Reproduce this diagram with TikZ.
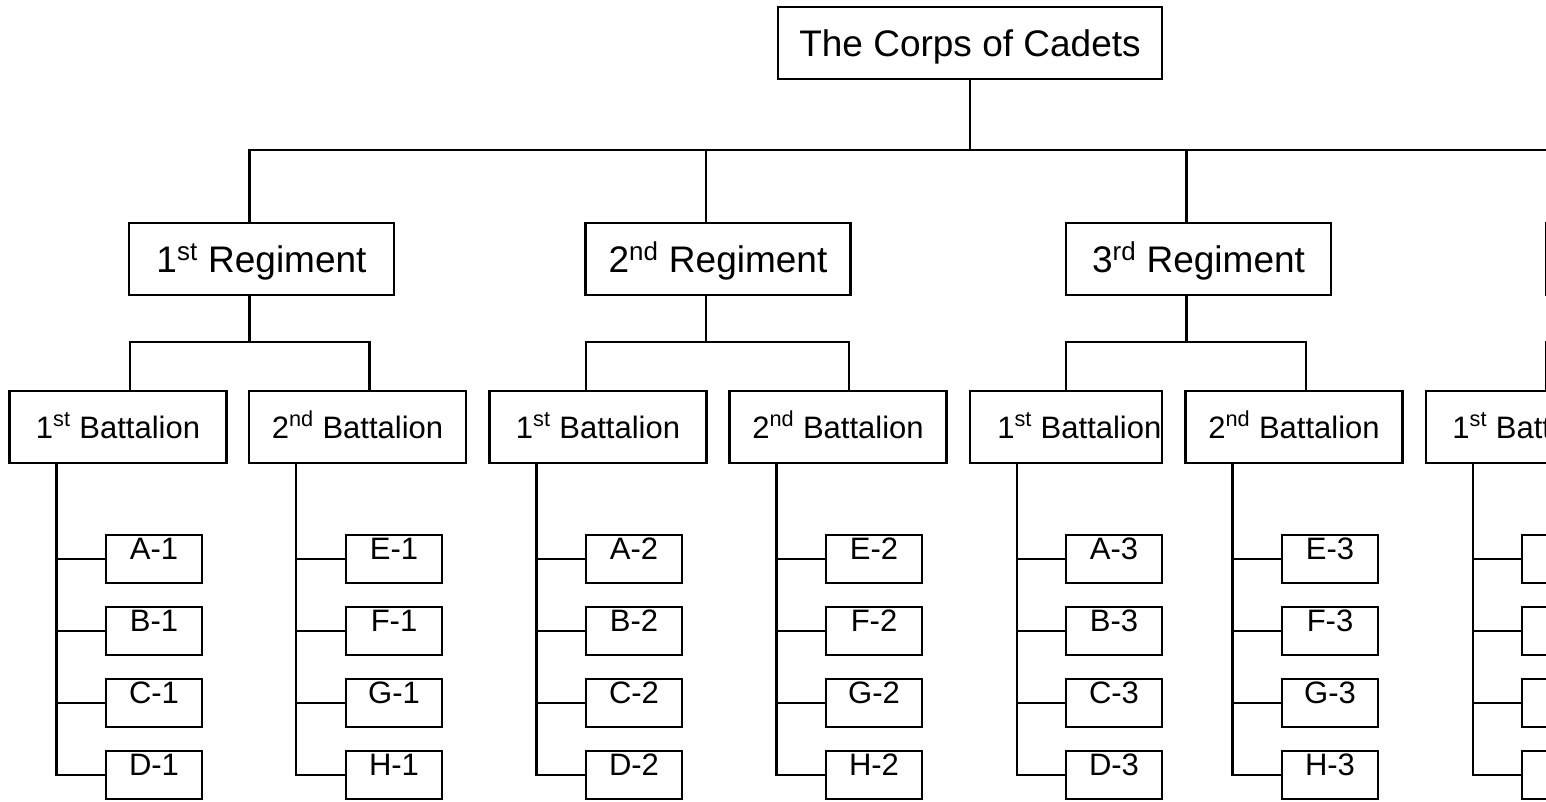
\documentclass[tikz,border=0pt]{standalone}
\usepackage{fontspec}
\setmainfont{Liberation Sans}
\usetikzlibrary{positioning}

\begin{document}
\begin{tikzpicture}[x=0.75pt, y=-0.75pt, line width=1.8pt,
  box/.style={draw=black, rectangle, inner sep=0pt, fill=white},
  corpsbox/.style={box, minimum width=288pt, minimum height=54pt, font=\fontsize{27.75}{30}\selectfont, text height=19.9pt, text depth=0pt},
  regbox/.style={box, minimum width=198.75pt, minimum height=54pt, font=\fontsize{27.75}{30}\selectfont, text height=19.9pt, text depth=0pt},
  batbox/.style={box, minimum width=162.75pt, minimum height=54pt, font=\fontsize{23.25}{26}\selectfont, text height=16.6pt, text depth=0pt},
  coybox/.style={box, minimum width=72pt, minimum height=36pt, font=\fontsize{23.25}{26}\selectfont, text height=18.5pt, text depth=17.5pt}]
 \fill[white] (0,0) rectangle (1546,802);
 \path[use as bounding box, clip] (0,0) rectangle (1546,802);

 % top
 \node[corpsbox] (corps) at (970,43) {The Corps of Cadets};
 \coordinate (spine) at (970,150);

 % regiments
 \foreach \r/\rx/\k/\o in {r1/261.5/1/st, r2/718/2/nd, r3/1198.5/3/rd}
  \node[regbox] (\r) at (\rx,259) {\k\textsuperscript{\o} Regiment};
 \node[regbox] (r4) at (1678.5,259) {};
 \draw (corps) -- (spine);
 \foreach \r in {r1,r2,r3,r4}
  \draw (spine) -| ([xshift=-9pt]\r.north);

 % battalions
 \node[batbox, minimum width=144pt] (b31) at (1066,427) {\hspace*{20pt}1\textsuperscript{st} Battalion};
 \draw ([xshift=-9pt]r3.south) |- ([yshift=36pt]b31.north) -- (b31.north);
 \foreach \b/\r/\bx/\sh/\k/\o in {b11/r1/118/9pt/1/st, b12/r1/357.5/9pt/2/nd, b21/r2/598/-9pt/1/st,
   b22/r2/838/8.25pt/2/nd, b32/r3/1294/9pt/2/nd, b41/r4/1534.5/9pt/1/st} {
  \node[batbox] (\b) at (\bx,427) {\k\textsuperscript{\o} Battalion};
  \draw ([xshift=-9pt]\r.south) |- ([xshift=\sh, yshift=36pt]\b.north) -- ([xshift=\sh]\b.north);
 }

 % companies
 \foreach \b/\cx/\la/\lb/\lc/\ld/\n in {b11/154/A/B/C/D/1, b12/394/E/F/G/H/1, b21/634/A/B/C/D/2,
   b22/874/E/F/G/H/2, b31/1114/A/B/C/D/3, b32/1330/E/F/G/H/3} {
  \foreach \l [count=\i] in {\la,\lb,\lc,\ld}
   \node[coybox] (c\l\n) at (\cx,487+72*\i) {\l-\n};
  \draw ([xshift=36pt]\b.south west) |- (c\ld\n.west);
  \foreach \l in {\la,\lb,\lc}
   \draw (c\l\n.west) -- ++(-48,0);
 }
 \foreach \l [count=\i] in {A,B,C,D}
  \node[coybox] (c\l4) at (1570,487+72*\i) {};
 \draw ([xshift=36pt]b41.south west) |- (cD4.west);
 \foreach \l in {A,B,C}
  \draw (c\l4.west) -- ++(-48,0);
\end{tikzpicture}
\end{document}
